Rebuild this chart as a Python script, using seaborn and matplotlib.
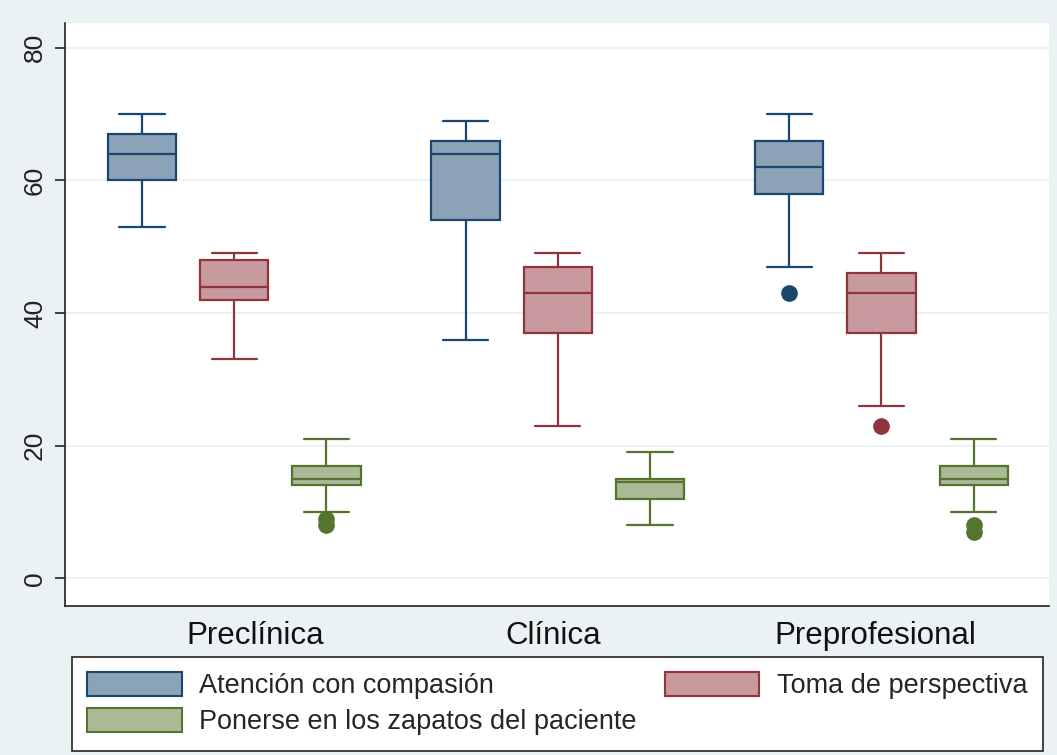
import pandas as pd
import seaborn as sns
import matplotlib.pyplot as plt
from matplotlib.patches import Patch
from matplotlib.transforms import ScaledTranslation

# categorias y series
etapas = ["Preclínica", "Clínica", "Preprofesional"]
series = ["Atención con compasión", "Toma de perspectiva",
          "Ponerse en los zapatos del paciente"]

# resumen de cinco numeros por etapa
atencion_min = [53, 36, 47]
atencion_q1 = [60, 54, 58]
atencion_med = [64, 64, 62]
atencion_q3 = [67, 66, 66]
atencion_max = [70, 69, 70]
atencion_out = [[], [], [43]]

toma_min = [33, 23, 26]
toma_q1 = [42, 37, 37]
toma_med = [44, 43, 43]
toma_q3 = [48, 47, 46]
toma_max = [49, 49, 49]
toma_out = [[], [], [23]]

zapatos_min = [10, 8, 10]
zapatos_q1 = [14, 12, 14]
zapatos_med = [15, 14.5, 15]
zapatos_q3 = [17, 15, 17]
zapatos_max = [21, 19, 21]
zapatos_out = [[9, 8], [], [8, 7]]

resumen = {
    series[0]: (atencion_min, atencion_q1, atencion_med, atencion_q3, atencion_max, atencion_out),
    series[1]: (toma_min, toma_q1, toma_med, toma_q3, toma_max, toma_out),
    series[2]: (zapatos_min, zapatos_q1, zapatos_med, zapatos_q3, zapatos_max, zapatos_out),
}

linea = {series[0]: "#1A476F", series[1]: "#90353B", series[2]: "#55752F"}
relleno = {series[0]: "#8CA3B7", series[1]: "#C89A9D", series[2]: "#AABA97"}
fondo = "#EAF2F3"


def muestra(lo, q1, med, q3, hi, extra, m=20):
    # valores que reproducen los cuartiles y bigotes del grafico
    return list(extra) + [lo] + [q1] * m + [med] * m + [q3] * m + [hi]


filas = []
for s in series:
    mn, q1, md, q3, mx, out = resumen[s]
    for i, e in enumerate(etapas):
        for v in muestra(mn[i], q1[i], md[i], q3[i], mx[i], out[i]):
            filas.append({"etapa": e, "serie": s, "valor": v})
df = pd.DataFrame(filas)

sns.set_style("white")
plt.rcParams["font.family"] = ["Liberation Sans", "DejaVu Sans"]

fig = plt.figure(figsize=(10.57, 7.55), dpi=100, facecolor=fondo)
ax = fig.add_axes([0.0615, 0.1979, 0.931, 0.7713])
ax.set_facecolor("white")

for s in series:
    sns.boxplot(data=df[df["serie"] == s], x="etapa", y="valor", hue="serie",
                order=etapas, hue_order=series, palette=relleno, saturation=1,
                linecolor=linea[s], linewidth=1.6, width=0.855, gap=0.26,
                dodge=True, whis=1.5, fliersize=11, capwidths=0.14,
                flierprops=dict(marker="o", markerfacecolor=linea[s],
                                markeredgecolor=linea[s]),
                legend=False, ax=ax)

ax.set_xlim(-0.523, 2.518)
ax.set_ylim(-4.12, 83.7)
ax.set_yticks([0, 20, 40, 60, 80])
ax.set_xlabel("")
ax.set_ylabel("")
ax.yaxis.grid(True, color=fondo, linewidth=1.5)
ax.set_axisbelow(True)

for side in ["top", "right"]:
    ax.spines[side].set_visible(False)
for side in ["left", "bottom"]:
    ax.spines[side].set_color("#222222")
    ax.spines[side].set_linewidth(1.2)

ax.tick_params(axis="x", length=0, pad=11, labelsize=22.5, colors="#111111")
ax.tick_params(axis="y", left=True, length=7, width=1.2, pad=6, labelsize=19,
               labelrotation=90, colors="#222222")
plt.setp(ax.get_yticklabels(), va="center")

# pequeño desplazamiento horizontal de las etiquetas como en el original
desplaz = [21, -5, -6]
for lbl, dx in zip(ax.get_xticklabels(), desplaz):
    lbl.set_transform(lbl.get_transform() + ScaledTranslation(dx / 100, 0, fig.dpi_scale_trans))

orden = [series[0], series[2], series[1]]
handles = [Patch(facecolor=relleno[s], edgecolor=linea[s], linewidth=1.5) for s in orden]
leg = fig.legend(handles, orden, ncol=2, loc="upper left",
                 bbox_to_anchor=(72 / 1057, 1 - 657 / 755), fontsize=19.5,
                 handlelength=3.5, handleheight=0.95, handletextpad=0.63,
                 columnspacing=1.03, borderpad=0.57, labelspacing=0.33,
                 borderaxespad=0, fancybox=False, framealpha=1)
leg.get_frame().set_edgecolor("#222222")
leg.get_frame().set_linewidth(1.2)

plt.savefig("out.png", dpi=100, facecolor=fondo)
